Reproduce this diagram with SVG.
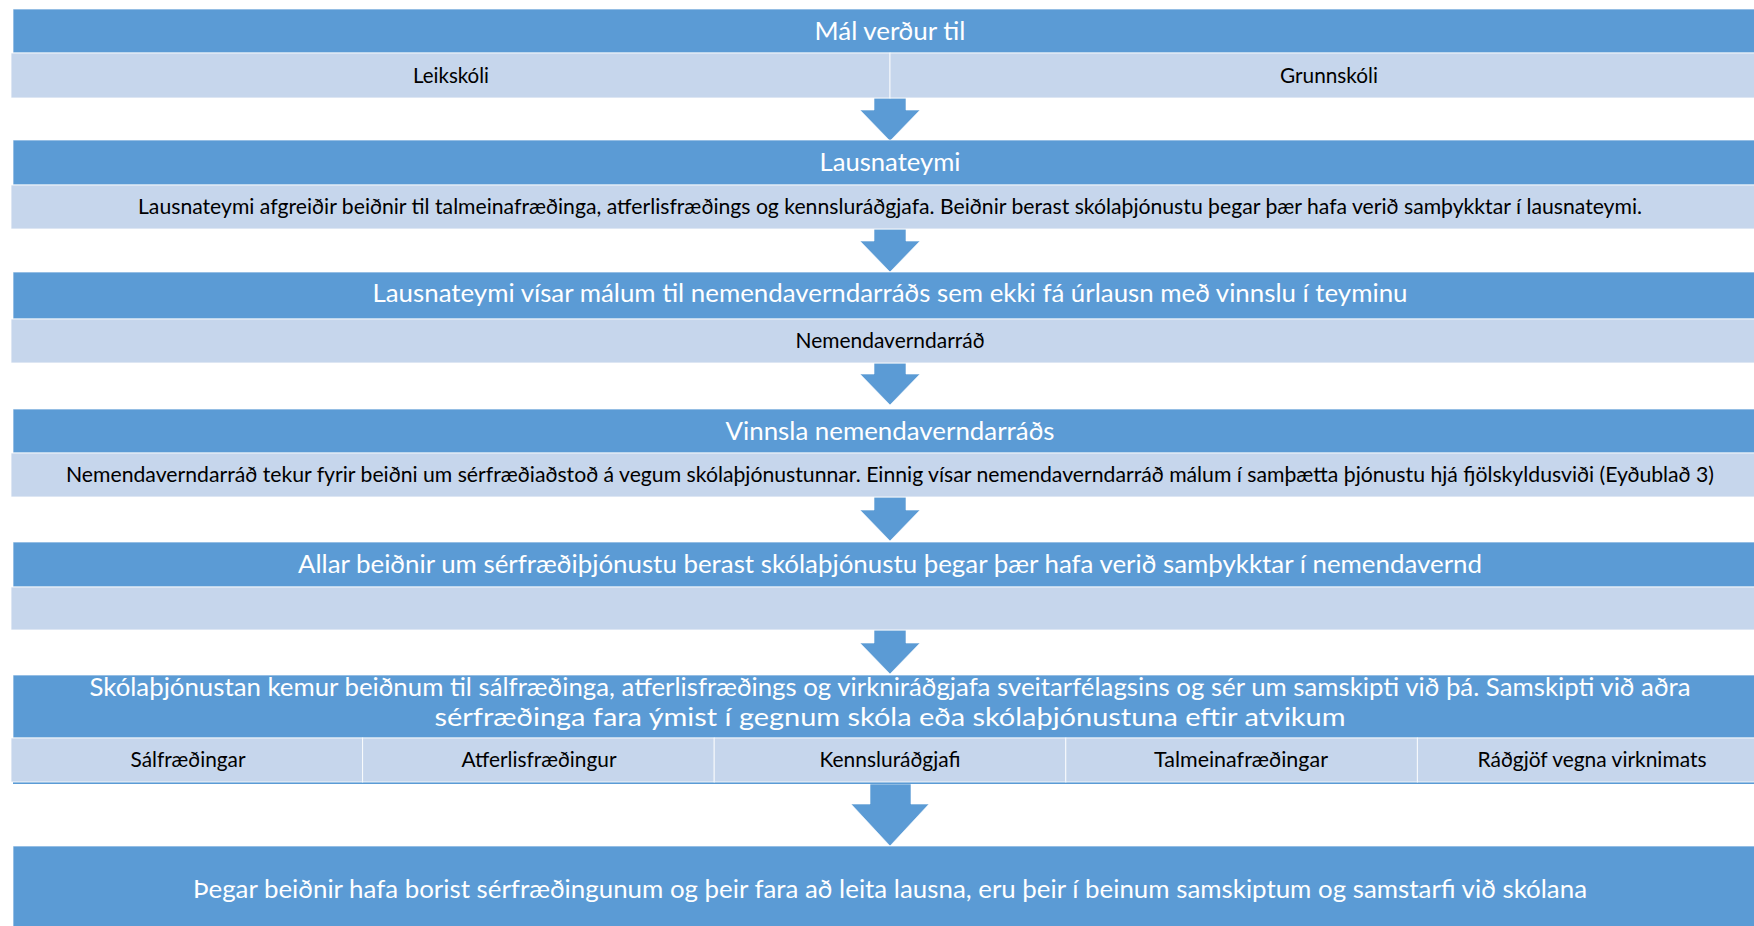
<svg xmlns="http://www.w3.org/2000/svg" width="1754" height="926" viewBox="0 0 1754 926">
<style>
.dark{fill:#5B9BD5;stroke:#ffffff;stroke-opacity:0.7;stroke-width:1}
.light{fill:#C6D6EC;stroke:#ffffff;stroke-opacity:0.8;stroke-width:1}
.arrow{fill:#5B9BD5;stroke:#ffffff;stroke-opacity:0.6;stroke-width:1}
.bar{fill:#5B9BD5}
.t{font-family:Lato,Carlito,"Liberation Sans",sans-serif;font-size:25.5px;fill:#ffffff;text-anchor:middle}
.s{font-family:Lato,Carlito,"Liberation Sans",sans-serif;font-size:20.5px;fill:#000000;text-anchor:middle}
</style>
<rect width="1754" height="926" fill="#ffffff"/>
<g id="connectors">
<polygon class="arrow" points="874,98 906,98 906,110 920,110 890,141 860,110 874,110"/>
<polygon class="arrow" points="874,229 906,229 906,241 920,241 890,272 860,241 874,241"/>
<polygon class="arrow" points="874,363 906,363 906,374 920,374 890,405 860,374 874,374"/>
<polygon class="arrow" points="874,497 906,497 906,510 920,510 890,541 860,510 874,510"/>
<polygon class="arrow" points="874,630 906,630 906,643 920,643 890,674 860,643 874,643"/>
<polygon class="arrow" points="870,784 911,784 911,804 929,804 890,846 851,804 870,804"/>
</g>
<g id="step1">
<rect class="dark" x="13" y="9" width="1760" height="44"/>
<text class="t" x="890" y="40" textLength="151" lengthAdjust="spacingAndGlyphs">Mál verður til</text>
<rect class="light" x="11" y="53" width="879" height="45"/>
<rect class="light" x="890" y="53" width="879" height="45"/>
<text class="s" x="451" y="83" textLength="76" lengthAdjust="spacingAndGlyphs">Leikskóli</text>
<text class="s" x="1329" y="83" textLength="98" lengthAdjust="spacingAndGlyphs">Grunnskóli</text>
</g>
<g id="step2">
<rect class="dark" x="13" y="140" width="1760" height="45"/>
<text class="t" x="890" y="171" textLength="141" lengthAdjust="spacingAndGlyphs">Lausnateymi</text>
<rect class="light" x="11" y="185" width="1758" height="44"/>
<text class="s" x="890" y="214" textLength="1504" lengthAdjust="spacingAndGlyphs">Lausnateymi afgreiðir beiðnir til talmeinafræðinga, atferlisfræðings og kennsluráðgjafa. Beiðnir berast skólaþjónustu þegar þær hafa verið samþykktar í lausnateymi.</text>
</g>
<g id="step3">
<rect class="dark" x="13" y="272" width="1760" height="47"/>
<text class="t" x="890" y="302" textLength="1035" lengthAdjust="spacingAndGlyphs">Lausnateymi vísar málum til nemendaverndarráðs sem ekki fá úrlausn með vinnslu í teyminu</text>
<rect class="light" x="11" y="319" width="1758" height="44"/>
<text class="s" x="890" y="348" textLength="189" lengthAdjust="spacingAndGlyphs">Nemendaverndarráð</text>
</g>
<g id="step4">
<rect class="dark" x="13" y="409" width="1760" height="44"/>
<text class="t" x="890" y="440" textLength="329" lengthAdjust="spacingAndGlyphs">Vinnsla nemendaverndarráðs</text>
<rect class="light" x="11" y="453" width="1758" height="44"/>
<text class="s" x="890" y="482" textLength="1648" lengthAdjust="spacingAndGlyphs">Nemendaverndarráð tekur fyrir beiðni um sérfræðiaðstoð á vegum skólaþjónustunnar. Einnig vísar nemendaverndarráð málum í samþætta þjónustu hjá fjölskyldusviði (Eyðublað 3)</text>
</g>
<g id="step5">
<rect class="dark" x="13" y="542" width="1760" height="45"/>
<text class="t" x="890" y="573" textLength="1184" lengthAdjust="spacingAndGlyphs">Allar beiðnir um sérfræðiþjónustu berast skólaþjónustu þegar þær hafa verið samþykktar í nemendavernd</text>
<rect class="light" x="11" y="587" width="1758" height="43"/>
</g>
<g id="step6">
<rect class="dark" x="13" y="675" width="1760" height="63"/>
<text class="t" x="890" y="696" textLength="1601" lengthAdjust="spacingAndGlyphs">Skólaþjónustan kemur beiðnum til sálfræðinga, atferlisfræðings og virkniráðgjafa sveitarfélagsins og sér um samskipti við þá. Samskipti við aðra</text>
<text class="t" x="890" y="726" textLength="911" lengthAdjust="spacingAndGlyphs">sérfræðinga fara ýmist í gegnum skóla eða skólaþjónustuna eftir atvikum</text>
<rect class="bar" x="13" y="781" width="1760" height="3"/>
<rect class="light" x="11" y="738" width="351.6" height="44"/>
<rect class="light" x="362.6" y="738" width="351.6" height="44"/>
<rect class="light" x="714.2" y="738" width="351.6" height="44"/>
<rect class="light" x="1065.8" y="738" width="351.6" height="44"/>
<rect class="light" x="1417.4" y="738" width="351.6" height="44"/>
<text class="s" x="188" y="767" textLength="115" lengthAdjust="spacingAndGlyphs">Sálfræðingar</text>
<text class="s" x="539" y="767" textLength="155" lengthAdjust="spacingAndGlyphs">Atferlisfræðingur</text>
<text class="s" x="890" y="767" textLength="141" lengthAdjust="spacingAndGlyphs">Kennsluráðgjafi</text>
<text class="s" x="1241" y="767" textLength="174" lengthAdjust="spacingAndGlyphs">Talmeinafræðingar</text>
<text class="s" x="1592" y="767" textLength="229" lengthAdjust="spacingAndGlyphs">Ráðgjöf vegna virknimats</text>
</g>
<g id="step7">
<rect class="dark" x="13" y="846" width="1760" height="90"/>
<text class="t" x="890" y="898" textLength="1394" lengthAdjust="spacingAndGlyphs">Þegar beiðnir hafa borist sérfræðingunum og þeir fara að leita lausna, eru þeir í beinum samskiptum og samstarfi við skólana</text>
</g>
</svg>
